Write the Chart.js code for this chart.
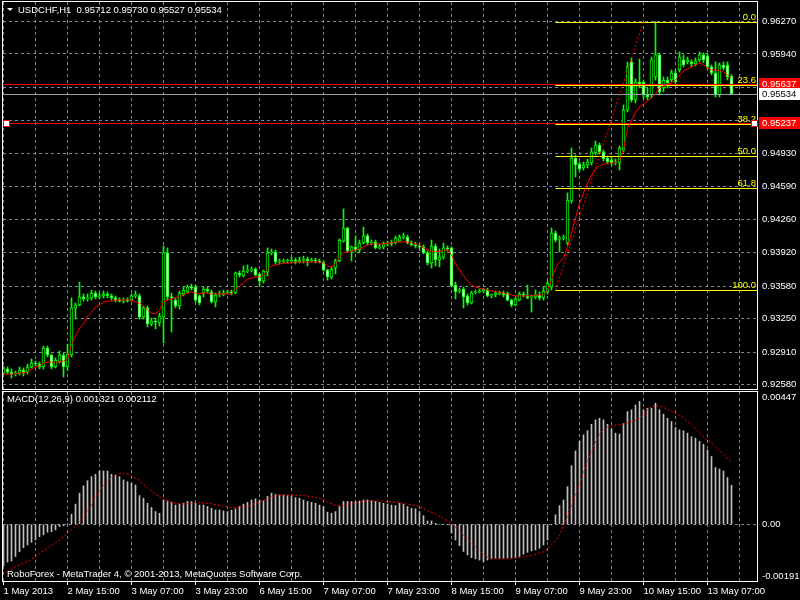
<!DOCTYPE html>
<html>
<head>
<meta charset="utf-8">
<title>USDCHF,H1</title>
<script src="https://cdn.jsdelivr.net/npm/chart.js@4.4.1/dist/chart.umd.min.js"></script>
<style>
  html, body { margin: 0; padding: 0; background: #000; }
  #wrap { position: relative; width: 800px; height: 600px; overflow: hidden; }
  #priceBox { position: absolute; left: 0; top: 0; width: 800px; height: 390px; }
  #macdBox { position: absolute; left: 0; top: 390px; width: 800px; height: 210px; }
</style>
</head>
<body>
<div id="wrap">
  <div id="priceBox"><canvas id="priceChart"></canvas></div>
  <div id="macdBox"><canvas id="macdChart"></canvas></div>
</div>
<script>
'use strict';

// time axis: one label every 16 hourly bars
const TIME_LABELS = ['1 May 2013', '2 May 15:00', '3 May 07:00', '3 May 23:00', '6 May 15:00', '7 May 07:00',
  '7 May 23:00', '8 May 15:00', '9 May 07:00', '9 May 23:00', '10 May 15:00', '13 May 07:00'];

// price scale grid levels
const PRICE_TICKS = [0.96270, 0.95940, 0.95600, 0.95260, 0.94930, 0.94590, 0.94260, 0.93920,
  0.93580, 0.93250, 0.92910, 0.92580];

// H1 candles
const OPEN = [
  0.92696, 0.92738, 0.92706, 0.92686, 0.92696, 0.92726, 0.92706, 0.92758, 0.92798, 0.92788,
  0.92758, 0.92950, 0.92880, 0.92758, 0.92808, 0.92880, 0.92758, 0.92880, 0.93358, 0.93388,
  0.93470, 0.93450, 0.93460, 0.93510, 0.93470, 0.93480, 0.93500, 0.93480, 0.93460, 0.93438,
  0.93428, 0.93438, 0.93438, 0.93480, 0.93480, 0.93265, 0.93358, 0.93195, 0.93225, 0.93205,
  0.93265, 0.93917, 0.93470, 0.93438, 0.93378, 0.93500, 0.93520, 0.93570, 0.93570, 0.93480,
  0.93510, 0.93550, 0.93520, 0.93418, 0.93490, 0.93500, 0.93510, 0.93520, 0.93510, 0.93713,
  0.93683, 0.93733, 0.93743, 0.93753, 0.93703, 0.93631, 0.93723, 0.93917, 0.93927, 0.93825,
  0.93825, 0.93835, 0.93835, 0.93845, 0.93825, 0.93845, 0.93855, 0.93835, 0.93845, 0.93835,
  0.93825, 0.93743, 0.93673, 0.93765, 0.93835, 0.94038, 0.94170, 0.93937, 0.93978, 0.93947,
  0.94018, 0.94090, 0.94018, 0.94028, 0.93968, 0.93978, 0.94008, 0.94018, 0.94018, 0.94038,
  0.94078, 0.94078, 0.94018, 0.93998, 0.93988, 0.93978, 0.93917, 0.93815, 0.93988, 0.93845,
  0.93875, 0.93968, 0.93968, 0.93591, 0.93530, 0.93550, 0.93480, 0.93408, 0.93510, 0.93520,
  0.93530, 0.93540, 0.93480, 0.93490, 0.93500, 0.93510, 0.93510, 0.93438, 0.93388, 0.93438,
  0.93500, 0.93480, 0.93460, 0.93470, 0.93490, 0.93460, 0.93520, 0.93570, 0.94120, 0.94058,
  0.94068, 0.94018, 0.94445, 0.94882, 0.94822, 0.94781, 0.94811, 0.94832, 0.94934, 0.95014,
  0.94944, 0.94882, 0.94862, 0.94832, 0.94832, 0.94964, 0.95370, 0.95858, 0.95472, 0.95655,
  0.95655, 0.95523, 0.95523, 0.95706, 0.95930, 0.95594, 0.95675, 0.95675, 0.95746, 0.95777,
  0.95879, 0.95859, 0.95859, 0.95838, 0.95879, 0.95930, 0.95920, 0.95808, 0.95746, 0.95523,
  0.95828, 0.95828, 0.95712];
const HIGH = [
  0.92768, 0.92758, 0.92738, 0.92716, 0.92758, 0.92748, 0.92788, 0.92840, 0.92818, 0.92808,
  0.92971, 0.92971, 0.92890, 0.92850, 0.92920, 0.92900, 0.92991, 0.93460, 0.93408, 0.93621,
  0.93500, 0.93500, 0.93540, 0.93530, 0.93510, 0.93530, 0.93520, 0.93500, 0.93480, 0.93460,
  0.93460, 0.93460, 0.93500, 0.93530, 0.93500, 0.93378, 0.93378, 0.93255, 0.93255, 0.93306,
  0.93988, 0.93968, 0.93510, 0.93460, 0.93530, 0.93570, 0.93591, 0.93601, 0.93591, 0.93490,
  0.93570, 0.93570, 0.93540, 0.93510, 0.93530, 0.93540, 0.93540, 0.93540, 0.93723, 0.93733,
  0.93785, 0.93795, 0.93775, 0.93765, 0.93713, 0.93743, 0.93968, 0.93958, 0.93947, 0.93855,
  0.93855, 0.93855, 0.93875, 0.93865, 0.93875, 0.93885, 0.93875, 0.93865, 0.93865, 0.93855,
  0.93835, 0.93753, 0.93775, 0.93855, 0.94060, 0.94365, 0.94180, 0.93988, 0.94090, 0.94048,
  0.94180, 0.94110, 0.94048, 0.94048, 0.94008, 0.94028, 0.94038, 0.94048, 0.94090, 0.94100,
  0.94120, 0.94100, 0.94038, 0.94028, 0.94008, 0.93998, 0.93937, 0.94048, 0.94008, 0.93958,
  0.94018, 0.93988, 0.93978, 0.93621, 0.93560, 0.93570, 0.93500, 0.93530, 0.93540, 0.93550,
  0.93560, 0.93560, 0.93500, 0.93530, 0.93530, 0.93530, 0.93520, 0.93448, 0.93470, 0.93520,
  0.93520, 0.93591, 0.93490, 0.93540, 0.93520, 0.93570, 0.93631, 0.94170, 0.94140, 0.94090,
  0.94100, 0.94527, 0.94984, 0.94913, 0.94842, 0.94842, 0.94872, 0.94984, 0.95055, 0.95035,
  0.94964, 0.94903, 0.94893, 0.94872, 0.95004, 0.95421, 0.95858, 0.95899, 0.95685, 0.95889,
  0.95675, 0.95594, 0.95909, 0.96270, 0.95951, 0.95706, 0.95706, 0.95777, 0.95777, 0.95961,
  0.95930, 0.95909, 0.95879, 0.95899, 0.95961, 0.95951, 0.95940, 0.95828, 0.95859, 0.95849,
  0.95859, 0.95859, 0.95730];
const LOW = [
  0.92676, 0.92686, 0.92646, 0.92666, 0.92676, 0.92666, 0.92686, 0.92748, 0.92768, 0.92738,
  0.92738, 0.92860, 0.92738, 0.92748, 0.92798, 0.92656, 0.92726, 0.92860, 0.93245, 0.93378,
  0.93428, 0.93428, 0.93438, 0.93450, 0.93450, 0.93460, 0.93460, 0.93438, 0.93418, 0.93418,
  0.93408, 0.93418, 0.93428, 0.93460, 0.93245, 0.93245, 0.93165, 0.93175, 0.93145, 0.93175,
  0.93001, 0.93438, 0.93113, 0.93358, 0.93348, 0.93480, 0.93510, 0.93540, 0.93418, 0.93388,
  0.93470, 0.93510, 0.93408, 0.93368, 0.93470, 0.93480, 0.93500, 0.93490, 0.93500, 0.93673,
  0.93673, 0.93713, 0.93723, 0.93683, 0.93581, 0.93611, 0.93683, 0.93897, 0.93805, 0.93805,
  0.93815, 0.93815, 0.93815, 0.93805, 0.93815, 0.93815, 0.93785, 0.93825, 0.93815, 0.93815,
  0.93733, 0.93641, 0.93653, 0.93703, 0.93825, 0.94028, 0.93927, 0.93835, 0.93927, 0.93917,
  0.94008, 0.93998, 0.93998, 0.93958, 0.93958, 0.93958, 0.93988, 0.93988, 0.94008, 0.94028,
  0.94058, 0.94008, 0.93988, 0.93968, 0.93958, 0.93907, 0.93795, 0.93763, 0.93785, 0.93775,
  0.93855, 0.93937, 0.93570, 0.93450, 0.93510, 0.93358, 0.93388, 0.93398, 0.93500, 0.93510,
  0.93510, 0.93470, 0.93460, 0.93470, 0.93490, 0.93470, 0.93428, 0.93368, 0.93378, 0.93428,
  0.93470, 0.93450, 0.93316, 0.93450, 0.93438, 0.93438, 0.93500, 0.93540, 0.94028, 0.93927,
  0.94048, 0.93998, 0.94425, 0.94689, 0.94750, 0.94760, 0.94781, 0.94811, 0.94913, 0.94923,
  0.94852, 0.94822, 0.94811, 0.94811, 0.94760, 0.94944, 0.95350, 0.95452, 0.95442, 0.95594,
  0.95492, 0.95472, 0.95492, 0.95675, 0.95533, 0.95554, 0.95594, 0.95655, 0.95635, 0.95757,
  0.95808, 0.95838, 0.95808, 0.95818, 0.95859, 0.95849, 0.95787, 0.95726, 0.95503, 0.95503,
  0.95777, 0.95675, 0.95527];
const CLOSE = [
  0.92738, 0.92706, 0.92686, 0.92696, 0.92726, 0.92706, 0.92758, 0.92798, 0.92788, 0.92758,
  0.92950, 0.92880, 0.92758, 0.92828, 0.92880, 0.92758, 0.92890, 0.93358, 0.93388, 0.93470,
  0.93450, 0.93460, 0.93510, 0.93470, 0.93480, 0.93500, 0.93480, 0.93460, 0.93438, 0.93428,
  0.93438, 0.93428, 0.93480, 0.93490, 0.93265, 0.93358, 0.93195, 0.93225, 0.93215, 0.93275,
  0.93917, 0.93470, 0.93460, 0.93378, 0.93510, 0.93540, 0.93570, 0.93560, 0.93438, 0.93408,
  0.93550, 0.93530, 0.93418, 0.93490, 0.93500, 0.93510, 0.93520, 0.93510, 0.93713, 0.93693,
  0.93733, 0.93743, 0.93743, 0.93693, 0.93631, 0.93733, 0.93917, 0.93927, 0.93825, 0.93835,
  0.93835, 0.93845, 0.93845, 0.93825, 0.93845, 0.93855, 0.93835, 0.93845, 0.93835, 0.93825,
  0.93743, 0.93673, 0.93753, 0.93835, 0.94048, 0.94170, 0.93937, 0.93978, 0.93947, 0.94018,
  0.94090, 0.94018, 0.94028, 0.93968, 0.93978, 0.94008, 0.94018, 0.94008, 0.94068, 0.94078,
  0.94090, 0.94018, 0.93998, 0.93988, 0.93978, 0.93917, 0.93815, 0.93988, 0.93845, 0.93875,
  0.93968, 0.93958, 0.93581, 0.93520, 0.93540, 0.93470, 0.93408, 0.93510, 0.93520, 0.93530,
  0.93550, 0.93480, 0.93490, 0.93510, 0.93510, 0.93490, 0.93438, 0.93388, 0.93448, 0.93500,
  0.93490, 0.93460, 0.93470, 0.93490, 0.93460, 0.93530, 0.93611, 0.94120, 0.94048, 0.94068,
  0.94078, 0.94455, 0.94882, 0.94811, 0.94771, 0.94811, 0.94842, 0.94944, 0.95014, 0.94944,
  0.94872, 0.94842, 0.94832, 0.94842, 0.94984, 0.95370, 0.95808, 0.95472, 0.95655, 0.95625,
  0.95523, 0.95503, 0.95879, 0.95930, 0.95554, 0.95675, 0.95645, 0.95746, 0.95655, 0.95909,
  0.95828, 0.95879, 0.95838, 0.95869, 0.95930, 0.95879, 0.95808, 0.95746, 0.95523, 0.95828,
  0.95798, 0.95706, 0.95534];

// moving average drawn over the candles
const MA_LINE = [
  0.92686, 0.92686, 0.92686, 0.92686, 0.92696, 0.92696, 0.92706, 0.92738, 0.92758, 0.92768,
  0.92798, 0.92808, 0.92808, 0.92808, 0.92808, 0.92818, 0.92840, 0.92981, 0.93073, 0.93153,
  0.93195, 0.93276, 0.93316, 0.93368, 0.93388, 0.93418, 0.93428, 0.93428, 0.93438, 0.93438,
  0.93438, 0.93438, 0.93438, 0.93418, 0.93408, 0.93378, 0.93336, 0.93306, 0.93296, 0.93336,
  0.93418, 0.93438, 0.93450, 0.93460, 0.93470, 0.93490, 0.93510, 0.93520, 0.93510, 0.93500,
  0.93510, 0.93510, 0.93500, 0.93500, 0.93500, 0.93500, 0.93500, 0.93500, 0.93550, 0.93581,
  0.93611, 0.93653, 0.93663, 0.93673, 0.93673, 0.93693, 0.93753, 0.93785, 0.93795, 0.93805,
  0.93815, 0.93815, 0.93815, 0.93825, 0.93825, 0.93825, 0.93825, 0.93825, 0.93825, 0.93825,
  0.93815, 0.93785, 0.93775, 0.93805, 0.93875, 0.93917, 0.93927, 0.93937, 0.93947, 0.93958,
  0.93978, 0.93998, 0.94008, 0.94008, 0.94008, 0.94008, 0.94018, 0.94018, 0.94028, 0.94028,
  0.94028, 0.94028, 0.94018, 0.94008, 0.93998, 0.93968, 0.93947, 0.93937, 0.93927, 0.93937,
  0.93937, 0.93958, 0.93897, 0.93805, 0.93743, 0.93683, 0.93631, 0.93591, 0.93570, 0.93560,
  0.93550, 0.93540, 0.93530, 0.93520, 0.93520, 0.93510, 0.93500, 0.93490, 0.93480, 0.93480,
  0.93480, 0.93480, 0.93480, 0.93490, 0.93490, 0.93490, 0.93540, 0.93641, 0.93763, 0.93825,
  0.93865, 0.93978, 0.94120, 0.94272, 0.94425, 0.94527, 0.94628, 0.94710, 0.94770, 0.94801,
  0.94822, 0.94832, 0.94832, 0.94832, 0.94862, 0.94964, 0.95187, 0.95269, 0.95340, 0.95401,
  0.95432, 0.95462, 0.95492, 0.95533, 0.95594, 0.95615, 0.95635, 0.95645, 0.95675, 0.95726,
  0.95767, 0.95787, 0.95808, 0.95828, 0.95849, 0.95828, 0.95798, 0.95777, 0.95777, 0.95767,
  0.95757, 0.95726, 0.95696];

// MACD(12,26,9): main histogram and signal line
const MACD_MAIN = [
  -0.00140, -0.00128, -0.00124, -0.00109, -0.00093, -0.00079, -0.00070, -0.00061, -0.00053, -0.00042,
  -0.00036, -0.00027, -0.00025, -0.00019, -0.00008, -0.00005, 0.00002, 0.00034, 0.00068, 0.00105,
  0.00130, 0.00147, 0.00161, 0.00169, 0.00180, 0.00180, 0.00180, 0.00169, 0.00165, 0.00161,
  0.00150, 0.00144, 0.00139, 0.00133, 0.00097, 0.00088, 0.00071, 0.00057, 0.00043, 0.00037,
  0.00082, 0.00079, 0.00074, 0.00065, 0.00068, 0.00071, 0.00077, 0.00077, 0.00071, 0.00065,
  0.00065, 0.00060, 0.00054, 0.00048, 0.00048, 0.00045, 0.00043, 0.00048, 0.00052, 0.00060,
  0.00068, 0.00074, 0.00082, 0.00086, 0.00082, 0.00079, 0.00094, 0.00105, 0.00101, 0.00099,
  0.00099, 0.00097, 0.00094, 0.00090, 0.00088, 0.00082, 0.00077, 0.00074, 0.00071, 0.00065,
  0.00060, 0.00041, 0.00037, 0.00043, 0.00060, 0.00077, 0.00077, 0.00077, 0.00077, 0.00079,
  0.00082, 0.00082, 0.00079, 0.00077, 0.00074, 0.00071, 0.00068, 0.00065, 0.00063, 0.00071,
  0.00068, 0.00060, 0.00054, 0.00052, 0.00043, 0.00029, 0.00011, 0.00011, 0.00003, 0.00000,
  0.00000, -0.00002, -0.00030, -0.00053, -0.00072, -0.00092, -0.00104, -0.00113, -0.00117, -0.00121,
  -0.00126, -0.00121, -0.00117, -0.00115, -0.00115, -0.00115, -0.00113, -0.00113, -0.00113, -0.00109,
  -0.00101, -0.00095, -0.00090, -0.00087, -0.00081, -0.00070, -0.00053, -0.00002, 0.00032, 0.00063,
  0.00082, 0.00127, 0.00198, 0.00248, 0.00280, 0.00302, 0.00316, 0.00338, 0.00353, 0.00358,
  0.00353, 0.00338, 0.00322, 0.00308, 0.00305, 0.00341, 0.00381, 0.00387, 0.00403, 0.00415,
  0.00387, 0.00392, 0.00392, 0.00409, 0.00387, 0.00372, 0.00358, 0.00347, 0.00327, 0.00319,
  0.00316, 0.00308, 0.00296, 0.00291, 0.00280, 0.00270, 0.00251, 0.00229, 0.00192, 0.00187,
  0.00180, 0.00158, 0.001321];
const MACD_SIGNAL = [
  -0.00166, -0.00159, -0.00152, -0.00145, -0.00138, -0.00131, -0.00125, -0.00118, -0.00108, -0.00099,
  -0.00090, -0.00082, -0.00072, -0.00062, -0.00053, -0.00042, -0.00030, -0.00019, -0.00006, 0.00008,
  0.00024, 0.00047, 0.00065, 0.00096, 0.00114, 0.00131, 0.00146, 0.00159, 0.00168, 0.00171,
  0.00171, 0.00170, 0.00164, 0.00156, 0.00148, 0.00135, 0.00122, 0.00111, 0.00102, 0.00092,
  0.00084, 0.00078, 0.00075, 0.00072, 0.00070, 0.00068, 0.00069, 0.00071, 0.00073, 0.00074,
  0.00072, 0.00070, 0.00069, 0.00066, 0.00063, 0.00061, 0.00059, 0.00057, 0.00056, 0.00057,
  0.00059, 0.00061, 0.00065, 0.00070, 0.00075, 0.00080, 0.00086, 0.00092, 0.00096, 0.00098,
  0.00099, 0.00099, 0.00099, 0.00098, 0.00098, 0.00097, 0.00095, 0.00093, 0.00091, 0.00088,
  0.00084, 0.00077, 0.00070, 0.00064, 0.00063, 0.00063, 0.00066, 0.00070, 0.00073, 0.00075,
  0.00078, 0.00079, 0.00079, 0.00079, 0.00079, 0.00078, 0.00077, 0.00076, 0.00075, 0.00074,
  0.00071, 0.00068, 0.00066, 0.00063, 0.00060, 0.00053, 0.00046, 0.00040, 0.00033, 0.00026,
  0.00019, 0.00012, 0.00003, -0.00009, -0.00023, -0.00037, -0.00051, -0.00063, -0.00077, -0.00091,
  -0.00101, -0.00111, -0.00116, -0.00117, -0.00117, -0.00117, -0.00116, -0.00115, -0.00114, -0.00113,
  -0.00110, -0.00108, -0.00105, -0.00101, -0.00097, -0.00093, -0.00085, -0.00070, -0.00056, -0.00038,
  -0.00005, 0.00027, 0.00062, 0.00100, 0.00133, 0.00175, 0.00212, 0.00246, 0.00278, 0.00305,
  0.00320, 0.00328, 0.00331, 0.00334, 0.00336, 0.00339, 0.00343, 0.00347, 0.00352, 0.00358,
  0.00370, 0.00387, 0.00397, 0.00402, 0.00400, 0.00395, 0.00388, 0.00382, 0.00375, 0.00368,
  0.00360, 0.00347, 0.00335, 0.00324, 0.00308, 0.00296, 0.00286, 0.00275, 0.00262, 0.00248,
  0.00238, 0.00222, 0.002112];
const MACD_MIN = -0.001918;
const MACD_MAX = 0.00447;
const MACD_TICK_LABELS = ['0.00447', '0.00', '-0.001918'];

// chart objects: fibonacci retracement and two horizontal lines
const FIB_LOW = 0.93540;
const FIB_HIGH = 0.96268;
const FIB_START_BAR = 138;
const FIB_END_BAR = 160;
const FIB_LEVELS = [0, 23.6, 38.2, 50, 61.8, 100];
const FIB_LABELS = ['0.0', '23.6', '38.2', '50.0', '61.8', '100.0'];
const HLINE_PRICES = [0.95637, 0.95237];

const SYMBOL = 'USDCHF,H1';
const COPYRIGHT = 'RoboForex - MetaTrader 4, \u00a9 2001-2013, MetaQuotes Software Corp.';

// ---- layout and styles ----
const LAST = CLOSE.length - 1;
const BID_PRICE = CLOSE[LAST];
const X_MIN = -0.125;
const X_MAX = 188.375;
const PRICE_MIN = 0.92534;
const PRICE_MAX = 0.96468;
const LABEL_STEP = 16;
const GRID_STEP = 8;
const AXIS_WIDTH = 43;
const MACD_AREA_HEIGHT = 189;

const GRID_COLOR = '#778899';
const CANDLE_COLOR = '#00ff00';
const FIB_COLOR = '#ffff00';
const HLINE_COLOR = '#ff0000';
const TEXT_FONT = '9.5px "Liberation Sans"';
const AXIS_FONT = { family: 'Liberation Sans', size: 9.5 };

Chart.defaults.font.family = 'Liberation Sans';
Chart.defaults.font.size = 9.5;

const fibPrice = (level) => FIB_HIGH - ((FIB_HIGH - FIB_LOW) * level) / 100;

function timeAxis(withLabels) {
  return {
    type: 'linear',
    min: X_MIN,
    max: X_MAX,
    offset: false,
    afterBuildTicks: (scale) => {
      const ticks = [];
      for (let bar = 0; bar <= X_MAX; bar += GRID_STEP) ticks.push({ value: bar });
      scale.ticks = ticks;
    },
    afterFit: (scale) => {
      scale.height = withLabels ? 19 : 0;
      scale.paddingLeft = 0;
      scale.paddingRight = 0;
    },
    grid: {
      color: GRID_COLOR,
      lineWidth: 1,
      offset: false,
      drawTicks: withLabels,
      tickLength: 4,
      tickColor: (ctx) => (ctx.tick && ctx.tick.value % LABEL_STEP === 0 ? '#ffffff' : 'rgba(0,0,0,0)'),
    },
    border: { display: false, dash: [3, 3] },
    ticks: {
      display: withLabels,
      autoSkip: false,
      maxRotation: 0,
      minRotation: 0,
      align: 'start',
      padding: 1,
      color: '#ffffff',
      font: AXIS_FONT,
      callback: (value) => (value % LABEL_STEP === 0 ? TIME_LABELS[value / LABEL_STEP] || '' : ''),
    },
  };
}

function windowFrame(chart) {
  const { ctx, chartArea: a } = chart;
  ctx.strokeStyle = '#ffffff';
  ctx.lineWidth = 1;
  ctx.strokeRect(a.left - 0.5, a.top - 0.5, a.right - a.left + 1, a.bottom - a.top + 1);
}

// keep horizontal object lines on whole pixel rows, like the terminal does
const snapFlatLines = {
  id: 'snapFlatLines',
  beforeDatasetDraw(chart, args) {
    const ds = chart.data.datasets[args.index];
    if (!ds.flat) return;
    const py = chart.scales.y.getPixelForValue(ds.data[0].y);
    chart.ctx.save();
    chart.ctx.translate(0, Math.round(py) + 0.5 - py);
  },
  afterDatasetDraw(chart, args) {
    if (chart.data.datasets[args.index].flat) chart.ctx.restore();
  },
};

// frame, captions and price tags of the main window
const priceOverlay = {
  id: 'priceOverlay',
  afterDraw(chart) {
    const { ctx, chartArea: area, scales } = chart;
    const x = scales.x;
    const y = scales.y;
    ctx.save();
    windowFrame(chart);

    ctx.font = TEXT_FONT;
    ctx.fillStyle = FIB_COLOR;
    ctx.textAlign = 'right';
    ctx.textBaseline = 'alphabetic';
    FIB_LEVELS.forEach((level, k) => {
      const py = Math.round(y.getPixelForValue(fibPrice(level)));
      ctx.fillText(FIB_LABELS[k], area.right - 1, py - 2);
    });

    // handles of the selected horizontal line
    const sel = Math.round(y.getPixelForValue(HLINE_PRICES[1]));
    [x.getPixelForValue(X_MIN) + 3, area.right - 3].forEach((px) => {
      ctx.fillStyle = '#ffffff';
      ctx.fillRect(Math.round(px) - 2, sel - 2, 5, 5);
      ctx.strokeStyle = HLINE_COLOR;
      ctx.strokeRect(Math.round(px) - 2.5, sel - 2.5, 6, 6);
    });

    const tag = (price, bg, fg) => {
      const py = Math.round(y.getPixelForValue(price));
      ctx.fillStyle = bg;
      ctx.fillRect(area.right + 2, py - 6, chart.width - area.right - 2, 12);
      ctx.fillStyle = fg;
      ctx.textAlign = 'left';
      ctx.textBaseline = 'middle';
      ctx.fillText(price.toFixed(5), area.right + 5, py + 0.5);
    };
    HLINE_PRICES.forEach((p) => tag(p, HLINE_COLOR, '#ffffff'));
    tag(BID_PRICE, '#ffffff', '#000000');

    // symbol header
    ctx.fillStyle = '#ffffff';
    ctx.beginPath();
    ctx.moveTo(7, 8);
    ctx.lineTo(13, 8);
    ctx.lineTo(10, 11);
    ctx.closePath();
    ctx.fill();
    ctx.textAlign = 'left';
    ctx.textBaseline = 'middle';
    const header = `${SYMBOL}  ${OPEN[LAST].toFixed(5)} ${HIGH[LAST].toFixed(5)} ` +
      `${LOW[LAST].toFixed(5)} ${CLOSE[LAST].toFixed(5)}`;
    ctx.fillText(header, 18, 10.5);
    ctx.restore();
  },
};

const macdOverlay = {
  id: 'macdOverlay',
  afterDraw(chart) {
    const { ctx } = chart;
    ctx.save();
    windowFrame(chart);
    ctx.font = TEXT_FONT;
    ctx.fillStyle = '#ffffff';
    ctx.textAlign = 'left';
    ctx.textBaseline = 'middle';
    ctx.fillText(`MACD(12,26,9) ${MACD_MAIN[LAST].toFixed(6)} ${MACD_SIGNAL[LAST].toFixed(6)}`, 7, 9.5);
    ctx.fillText(COPYRIGHT, 7, 184.5);
    ctx.restore();
  },
};

const bars = CLOSE.map((_, i) => i);
const wickData = bars.map((i) => ({ x: i, y: [LOW[i], HIGH[i]] }));
const bodyData = bars.map((i) => ({ x: i, y: [OPEN[i], CLOSE[i]] }));
const maData = MA_LINE.map((v, i) => ({ x: i, y: v }));

const flatLine = (fromBar, price, color, order) => ({
  type: 'line',
  flat: true,
  data: [{ x: fromBar, y: price }, { x: X_MAX, y: price }],
  borderColor: color,
  borderWidth: 1,
  pointRadius: 0,
  order,
});

// lower order is painted later (on top)
const priceDatasets = [
  {
    type: 'bar',
    data: wickData,
    backgroundColor: CANDLE_COLOR,
    borderWidth: 0,
    barThickness: 1,
    grouped: false,
    order: 9,
  },
  {
    type: 'bar',
    data: bodyData,
    backgroundColor: (ctx) => (CLOSE[ctx.dataIndex] >= OPEN[ctx.dataIndex] ? '#000000' : '#ffffff'),
    borderColor: CANDLE_COLOR,
    borderWidth: 1,
    borderSkipped: false,
    barThickness: 3,
    minBarLength: 1,
    grouped: false,
    order: 8,
  },
  flatLine(X_MIN, BID_PRICE, '#95a0aa', 7),
  ...FIB_LEVELS.map((level) => flatLine(FIB_START_BAR, fibPrice(level), FIB_COLOR, 6)),
  ...HLINE_PRICES.map((p) => flatLine(X_MIN, p, HLINE_COLOR, 5)),
  {
    type: 'line',
    data: maData,
    borderColor: '#ff0000',
    borderWidth: 1,
    pointRadius: 0,
    order: 2,
  },
  {
    type: 'line',
    data: [{ x: FIB_START_BAR, y: FIB_LOW }, { x: FIB_END_BAR, y: FIB_HIGH }],
    borderColor: '#ff0000',
    borderWidth: 1,
    borderDash: [2, 2],
    pointRadius: 0,
    order: 1,
  },
];

new Chart(document.getElementById('priceChart'), {
  type: 'bar',
  data: { datasets: priceDatasets },
  options: {
    responsive: true,
    maintainAspectRatio: false,
    animation: false,
    events: [],
    layout: { padding: { left: 3, top: 2, right: 0, bottom: 1 }, autoPadding: false },
    plugins: { legend: { display: false }, tooltip: { enabled: false } },
    scales: {
      x: timeAxis(false),
      y: {
        type: 'linear',
        position: 'right',
        min: PRICE_MIN,
        max: PRICE_MAX,
        beginAtZero: false,
        afterBuildTicks: (scale) => {
          scale.ticks = PRICE_TICKS.map((v) => ({ value: v }));
        },
        afterFit: (scale) => {
          scale.width = AXIS_WIDTH;
          scale.paddingTop = 0;
          scale.paddingBottom = 0;
        },
        grid: { color: GRID_COLOR, drawTicks: false },
        border: { display: false, dash: [3, 3] },
        ticks: {
          color: '#ffffff',
          font: AXIS_FONT,
          padding: 5,
          autoSkip: false,
          callback: (value) => Number(value).toFixed(5),
        },
      },
    },
  },
  plugins: [snapFlatLines, priceOverlay],
});

new Chart(document.getElementById('macdChart'), {
  type: 'bar',
  data: {
    datasets: [
      {
        type: 'bar',
        data: MACD_MAIN.map((v, i) => ({ x: i, y: v })),
        backgroundColor: '#c0c0c0',
        borderWidth: 0,
        barThickness: 1,
        grouped: false,
        order: 2,
      },
      {
        type: 'line',
        data: MACD_SIGNAL.map((v, i) => ({ x: i, y: v })),
        borderColor: '#ff0000',
        borderWidth: 1,
        borderDash: [2, 2],
        pointRadius: 0,
        order: 1,
      },
    ],
  },
  options: {
    responsive: true,
    maintainAspectRatio: false,
    animation: false,
    events: [],
    layout: { padding: { left: 3, top: 2, right: 0, bottom: 0 }, autoPadding: false },
    plugins: { legend: { display: false }, tooltip: { enabled: false } },
    scales: {
      x: timeAxis(true),
      y: {
        type: 'linear',
        position: 'right',
        min: MACD_MIN,
        max: MACD_MAX,
        beginAtZero: false,
        afterBuildTicks: (scale) => {
          // min and max captions sit a few pixels inside the window
          const inset = (5 * (MACD_MAX - MACD_MIN)) / MACD_AREA_HEIGHT;
          scale.ticks = [{ value: MACD_MAX - inset }, { value: 0 }, { value: MACD_MIN + inset }];
        },
        afterFit: (scale) => {
          scale.width = AXIS_WIDTH;
          scale.paddingTop = 0;
          scale.paddingBottom = 0;
        },
        grid: {
          color: (ctx) => (ctx.tick && ctx.tick.value === 0 ? GRID_COLOR : 'rgba(0,0,0,0)'),
          drawTicks: false,
        },
        border: { display: false, dash: [3, 3] },
        ticks: {
          color: '#ffffff',
          font: AXIS_FONT,
          padding: 5,
          autoSkip: false,
          callback: (value, index) => MACD_TICK_LABELS[index],
        },
      },
    },
  },
  plugins: [macdOverlay],
});
</script>
</body>
</html>
